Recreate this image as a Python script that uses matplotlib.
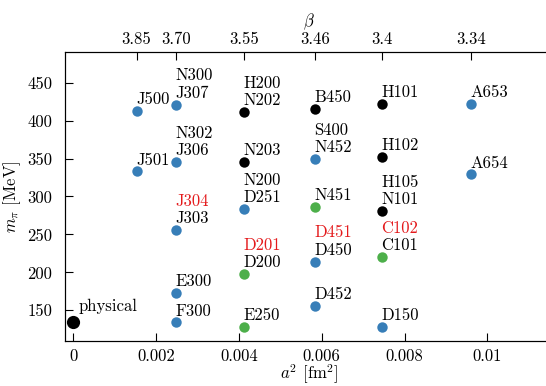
import matplotlib
matplotlib.use("Agg")
import matplotlib.pyplot as plt

plt.rcParams['font.family'] = 'cmr10'
plt.rcParams['mathtext.fontset'] = 'cm'
plt.rcParams['axes.formatter.use_mathtext'] = True
plt.rcParams['font.size'] = 12

BLUE = '#377eb8'
GREEN = '#4daf4a'
BLACK = 'black'
RED = '#e41a1c'

# lattice spacings for each beta (top axis)
beta_labels = ["3.85", "3.70", "3.55", "3.46", "3.4", "3.34"]
beta_a2 = [0.00153, 0.00248, 0.00413, 0.00583, 0.00746, 0.0096]

# ensembles: beta index, pion mass, marker colour
ens_beta = [0, 0, 1, 1, 1, 1, 1, 2, 2, 2, 2, 2, 3, 3, 3, 3, 3, 4, 4, 4, 4, 4, 5, 5]
ens_mpi = [413, 333, 421, 345, 256, 173, 134, 411, 345, 283, 198, 128,
           415, 349, 286, 214, 156, 422, 352, 281, 220, 128, 422, 329]
ens_color = [BLUE, BLUE, BLUE, BLUE, BLUE, BLUE, BLUE,
             BLACK, BLACK, BLUE, GREEN, GREEN,
             BLACK, BLUE, GREEN, BLUE, BLUE,
             BLACK, BLACK, BLACK, GREEN, BLUE,
             BLUE, BLUE]
# label lines from the bottom up
ens_label = [["J500"], ["J501"], ["J307", "N300"], ["J306", "N302"],
             ["J303", "J304"], ["E300"], ["F300"],
             ["N202", "H200"], ["N203"], ["D251", "N200"], ["D200", "D201"], ["E250"],
             ["B450"], ["N452", "S400"], ["N451"], ["D450", "D451"], ["D452"],
             ["H101"], ["H102"], ["N101", "H105"], ["C101", "C102"], ["D150"],
             ["A653"], ["A654"]]
red_names = ["J304", "D201", "D451", "C102"]

phys_a2 = 0.0
phys_mpi = 134

fig = plt.figure(figsize=(5.46, 3.86), dpi=100)
ax = fig.add_axes([0.119, 0.1174, 0.895, 0.7471])

for b, m, c, lab in zip(ens_beta, ens_mpi, ens_color, ens_label):
    x = beta_a2[b]
    ax.plot(x, m, 'o', color=c, markersize=7.5, markeredgewidth=0)
    for k, name in enumerate(lab):
        tc = RED if name in red_names else 'black'
        ax.annotate(name, (x, m), xytext=(-0.5, 5 + 12.5 * k), textcoords='offset points',
                    ha='left', va='baseline', color=tc)

ax.plot(phys_a2, phys_mpi, 'o', color='black', markersize=9.5, markeredgewidth=0)
ax.annotate("physical", (phys_a2, phys_mpi), xytext=(4, 8), textcoords='offset points',
            ha='left', va='baseline')

ax.set_xlim(-0.0002, 0.0116)
ax.set_ylim(110, 490)
ax.set_xticks([0, 0.002, 0.004, 0.006, 0.008, 0.01])
ax.set_xticklabels(["0", "0.002", "0.004", "0.006", "0.008", "0.01"])
ax.set_yticks([150, 200, 250, 300, 350, 400, 450])
ax.set_yticklabels(["150", "200", "250", "300", "350", "400", "450"])
ax.tick_params(direction='in', length=5.5, width=0.8, right=True)
ax.tick_params(axis='x', pad=6)
ax.tick_params(axis='y', pad=9)
ax.set_xlabel(r"$a^2$ [fm$^2$]", labelpad=-1)
ax.set_ylabel(r"$m_\pi$ [MeV]", labelpad=3)

top = ax.twiny()
top.set_xlim(ax.get_xlim())
top.set_xticks(beta_a2)
top.set_xticklabels(beta_labels)
top.tick_params(direction='in', length=5.5, width=0.8, pad=4)
top.set_xlabel(r"$\beta$", labelpad=4)

fig.savefig("out.png", dpi=100)
